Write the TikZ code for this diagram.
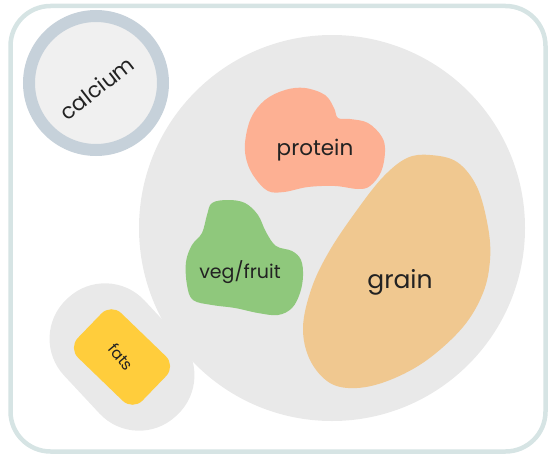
\documentclass[tikz,border=0pt]{standalone}
\usepackage{fontspec}
\setmainfont{Poppins}
\usepackage{tikz}
\usepackage{xcolor}
\usetikzlibrary{positioning}

\definecolor{frameline}{HTML}{D6E4E4}
\definecolor{ringline}{HTML}{C6D1DA}
\definecolor{ringfill}{HTML}{F0F0F0}
\definecolor{plategrey}{HTML}{E9E9E9}
\definecolor{proteinc}{HTML}{FDB093}
\definecolor{vegc}{HTML}{8FC87C}
\definecolor{grainc}{HTML}{F0C890}
\definecolor{fatsc}{HTML}{FFCD3C}
\definecolor{labeltext}{HTML}{222222}

\begin{document}
\begin{tikzpicture}[
    x=1pt, y=-1pt,
    label/.style={text=labeltext, inner sep=0pt},
    blob/.style={smooth cycle, tension=0.6}
]
\useasboundingbox (0,0) rectangle (556,460);

\draw[frameline, line width=4.5pt, rounded corners=40pt] (10.5,6) rectangle (545.5,451.5);

\fill[plategrey] (332,228) circle[radius=193];
\node[rectangle, fill=plategrey, rounded corners=54pt, minimum width=160pt, minimum height=110pt, rotate=-47] (fatsbg) at (122,357) {};

\draw[ringline, fill=ringfill, line width=12pt] (96,83) circle[radius=67];

\fill[proteinc] plot[blob] coordinates {(245,143) (251,118) (265,100) (285,90) (305,88) (325,95) (334,108) (338,118) (350,119) (368,123) (382,137) (385,152) (381,172) (370,186) (358,189) (335,186) (308,187) (284,192) (268,191) (255,178) (247,162)};
\fill[vegc] plot[blob] coordinates {(212,203) (228,200) (245,203) (258,215) (266,232) (276,246) (292,251) (301,260) (303,276) (300,293) (292,308) (278,315) (258,313) (235,308) (212,305) (193,300) (187,285) (186,262) (192,245) (202,233) (207,215)};
\fill[grainc] plot[blob] coordinates {(430,155) (457,162) (477,187) (488,227) (490,260) (483,293) (463,327) (427,360) (390,380) (357,388) (330,383) (310,360) (303,327) (312,287) (330,250) (357,210) (383,177) (407,158)};

\node[rectangle, fill=fatsc, rounded corners=14pt, minimum width=90pt, minimum height=62pt, rotate=-44] (fatsbox) at (122,357) {};

\node[label, font=\fontsize{21.5}{25}\selectfont, rotate=38] (calcium) at (97,88) {calcium};
\node[label, font=\fontsize{21.5}{25}\selectfont] (protein) at (315,150) {protein};
\node[label, font=\fontsize{19}{23}\selectfont] (vegfruit) at (240,272) {veg/fruit};
\node[label, font=\fontsize{25}{30}\selectfont] (grain) at (400,282) {grain};
\node[label, font=\fontsize{15.5}{18}\selectfont, rotate=-50] (fats) at (121,357) {fats};
\end{tikzpicture}
\end{document}
